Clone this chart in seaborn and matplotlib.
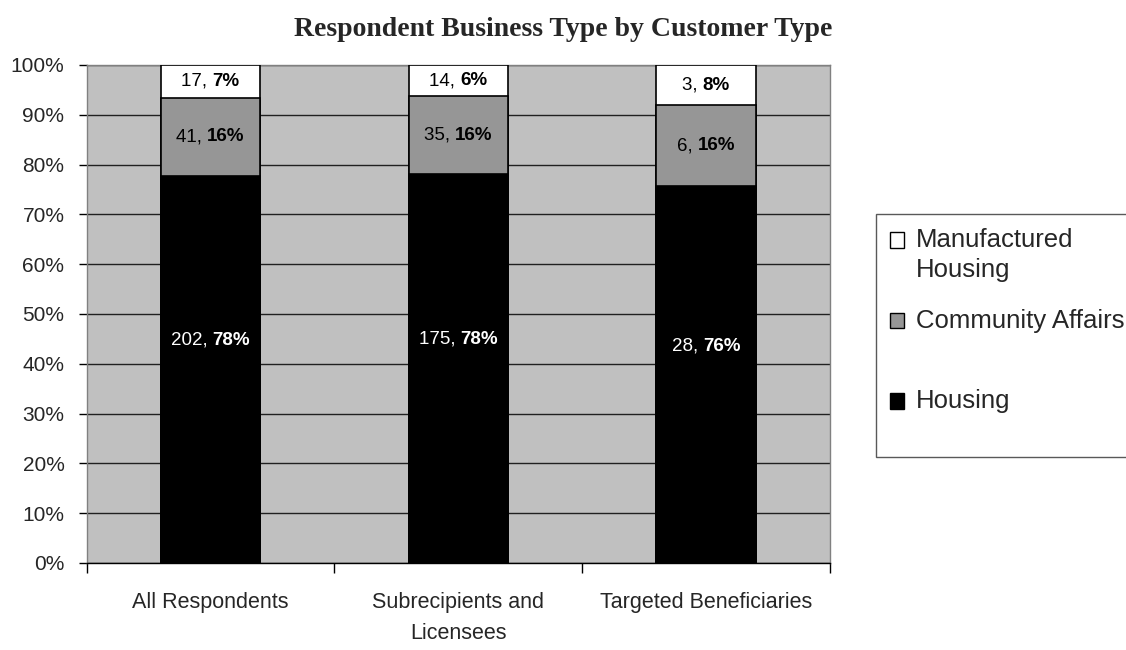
import pandas as pd
import seaborn as sns
import matplotlib.pyplot as plt
from matplotlib.patches import Patch, Rectangle
from matplotlib.legend_handler import HandlerPatch
from matplotlib.offsetbox import TextArea, HPacker, AnnotationBbox

# datos
categories = ['All Respondents', 'Subrecipients and\nLicensees', 'Targeted Beneficiaries']
housing = [202, 175, 28]
community = [41, 35, 6]
manufactured = [17, 14, 3]
housing_pct = ['78%', '78%', '76%']
community_pct = ['16%', '16%', '16%']
manufactured_pct = ['7%', '6%', '8%']
series_names = ['Manufactured\nHousing', 'Community Affairs', 'Housing']

df = pd.DataFrame({'cat': categories, 'Housing': housing,
                   'Community Affairs': community, 'Manufactured Housing': manufactured})
total = df[['Housing', 'Community Affairs', 'Manufactured Housing']].sum(axis=1)
df['h'] = df['Housing'] / total * 100
df['c'] = df['Community Affairs'] / total * 100
df['m'] = df['Manufactured Housing'] / total * 100

sns.set_style('white')
sans = ['Liberation Sans', 'DejaVu Sans']
plt.rcParams['font.family'] = sans

fig = plt.figure(figsize=(11.26, 6.5), dpi=100)
ax = fig.add_axes([0.077, 0.134, 0.66, 0.766])
ax.set_facecolor('#C0C0C0')

# barras apiladas: se dibuja del total hacia abajo
sns.barplot(x=df['cat'], y=df['h'] + df['c'] + df['m'], color='white', edgecolor='black',
            linewidth=1.2, width=0.4, saturation=1, ax=ax, zorder=3)
sns.barplot(x=df['cat'], y=df['h'] + df['c'], color='#969696', edgecolor='black',
            linewidth=1.2, width=0.4, saturation=1, ax=ax, zorder=3)
sns.barplot(x=df['cat'], y=df['h'], color='black', edgecolor='black',
            linewidth=1.2, width=0.4, saturation=1, ax=ax, zorder=3)

ax.set_xlim(-0.5, 2.5)
ax.set_ylim(0, 100)
ax.set_yticks(range(0, 101, 10))
ax.set_yticklabels([f'{v}%' for v in range(0, 101, 10)], fontsize=15)
ax.yaxis.grid(True, color='#202020', linewidth=1, zorder=0)
ax.set_axisbelow(True)
ax.tick_params(axis='y', direction='out', length=6, width=1, color='black', left=True, pad=10)
ax.set_xticks(range(len(categories)))
ax.set_xticklabels(categories, fontsize=15.5, linespacing=1.6)
ax.tick_params(axis='x', which='major', length=0, pad=21)
ax.set_xticks([-0.5, 0.5, 1.5, 2.5], minor=True)
ax.tick_params(axis='x', which='minor', direction='out', length=7, width=1, color='black', bottom=True)
ax.set_xlabel('')
ax.set_ylabel('')
for s in ['top', 'right', 'left']:
    ax.spines[s].set_color('#808080')
ax.spines['bottom'].set_color('black')
for s in ax.spines.values():
    s.set_linewidth(1)


def label(x, y, count, pct, color):
    t1 = TextArea(f'{count}, ', textprops=dict(fontsize=13.5, color=color))
    t2 = TextArea(pct, textprops=dict(fontsize=13.5, color=color, fontweight='bold'))
    box = HPacker(children=[t1, t2], align='baseline', pad=0, sep=0)
    ab = AnnotationBbox(box, (x, y), frameon=False, box_alignment=(0.5, 0.5), zorder=5)
    ax.add_artist(ab)


for i in range(len(categories)):
    h, c, m = df['h'][i], df['c'][i], df['m'][i]
    label(i, h * 0.575, housing[i], housing_pct[i], 'white')
    label(i, h + c / 2, community[i], community_pct[i], 'black')
    label(i, h + c + m / 2, manufactured[i], manufactured_pct[i], 'black')

fig.text(0.5, 0.954, 'Respondent Business Type by Customer Type', ha='center', va='center',
         fontsize=20, fontweight='bold', family=['Liberation Serif', 'DejaVu Serif'])


# cuadrito de la leyenda alineado con la primera linea del texto
def top_square(legend, orig_handle, xdescent, ydescent, width, height, fontsize):
    return Rectangle((-xdescent, -ydescent + 0.6 * fontsize), width, height)


handles = [Patch(facecolor='white', edgecolor='black'),
           Patch(facecolor='#969696', edgecolor='black'),
           Patch(facecolor='black', edgecolor='black')]
labels = [series_names[0], series_names[1] + '\n ', series_names[2] + '\n ']
leg = fig.legend(handles, labels, loc='upper left', bbox_to_anchor=(0.778, 0.671),
                 frameon=True, fancybox=False, edgecolor='#303030',
                 prop={'size': 18.5}, handlelength=0.55, handleheight=0.55, handletextpad=0.45,
                 labelspacing=1.05, borderpad=0.55, borderaxespad=0,
                 handler_map={Patch: HandlerPatch(patch_func=top_square)})
leg.get_frame().set_linewidth(1)
for t in leg.get_texts():
    t.set_linespacing(1.3)

fig.savefig('out.png', dpi=100, facecolor='white')
